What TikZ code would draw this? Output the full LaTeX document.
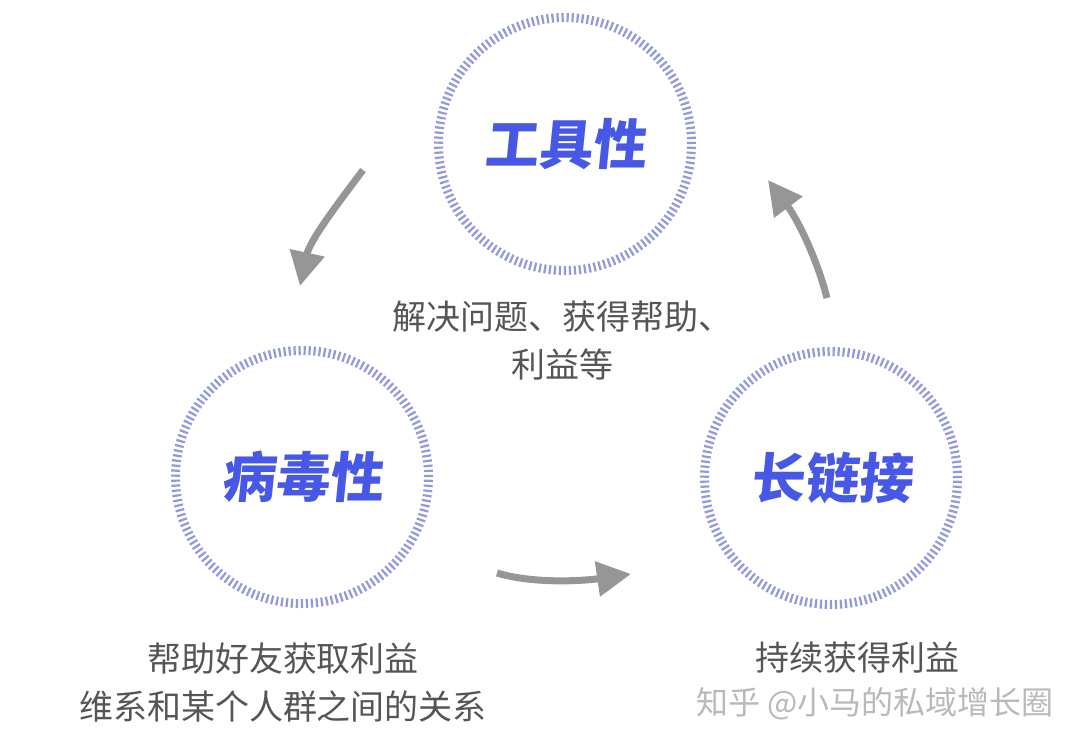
\documentclass[tikz,border=0pt]{standalone}
\usepackage{fontspec}
\usetikzlibrary{arrows.meta}
\newfontfamily\cjkfont{Noto Sans CJK SC}
\newfontfamily\cjktitle{Noto Sans CJK SC}[FakeSlant=0.1]
\definecolor{ringblue}{RGB}{146,152,220}
\definecolor{titleblue}{RGB}{72,88,230}
\definecolor{textgray}{RGB}{85,85,85}
\definecolor{arrowgray}{RGB}{150,150,150}
\tikzset{
  ring/.style={circle, draw=ringblue, line width=9pt,
    dash pattern=on 2.2pt off 2.8pt, minimum size=253pt, inner sep=0pt,
    text=titleblue, font=\cjktitle\bfseries\fontsize{54}{54}\selectfont},
  note/.style={text=textgray, align=center,
    font=\cjkfont\fontsize{34}{48}\selectfont},
  flow/.style={draw=arrowgray, line width=7pt,
    -{Triangle[length=34pt, width=34pt]}}
}

\begin{document}
\begin{tikzpicture}[x=1pt, y=-1pt]
    \useasboundingbox (0,0) rectangle (1080,748);

    % draw circles
    \node[ring] (tool)  at (565,144) {工具性};
    \node[ring] (virus) at (302,477) {病毒性};
    \node[ring] (link)  at (831,478) {长链接};

    % draw notes
    \node[note] (toolnote)  at (562,341) {解决问题、获得帮助、\\利益等};
    \node[note] (virusnote) at (283,683) {帮助好友获取利益\\维系和某个人群之间的关系};
    \node[note] (linknote)  at (857,658) {持续获得利益};
    \node[text=gray!55, font=\cjkfont\fontsize{32}{32}\selectfont] (mark)
      at (875,704) {知乎 @小马的私域增长圈};

    % draw arrows
    \coordinate (a1s) at (363,170); \coordinate (a1t) at (300,286);
    \coordinate (a2s) at (497,573); \coordinate (a2t) at (631,574);
    \coordinate (a3s) at (827,298); \coordinate (a3t) at (768,180);
    \draw[flow] (a1s) .. controls (339,202) and (310,240) .. (a1t);
    \draw[flow] (a2s) .. controls (537,585) and (590,580) .. (a2t);
    \draw[flow] (a3s) .. controls (817,259) and (798,220) .. (a3t);

  \end{tikzpicture}
\end{document}
